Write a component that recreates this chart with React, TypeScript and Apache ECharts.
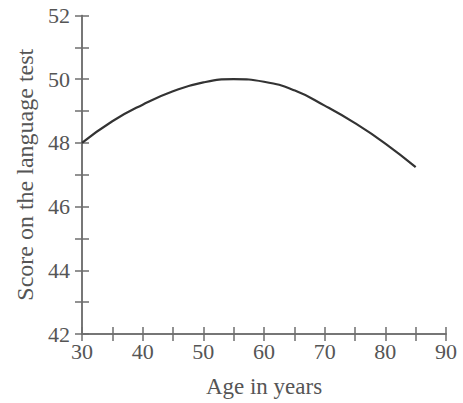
import React, { useEffect, useRef } from "react";
import * as echarts from "echarts";

const ages = [30, 35, 40, 45, 50, 55, 60, 65, 70, 75, 80, 85];
const scores = [48.0, 48.68, 49.2, 49.62, 49.9, 50.0, 49.92, 49.65, 49.17, 48.62, 47.98, 47.24];
const xTitle = "Age in years";
const yTitle = "Score on the language test";

const FONT = "'Liberation Serif', 'DejaVu Serif', serif";
const AXIS = "#6e6e6e";
const TEXT = "#555";

export default function App() {
  const ref = useRef<HTMLDivElement>(null);
  useEffect(() => {
    if (!ref.current) return;
    const chart = echarts.init(ref.current, undefined, { renderer: "svg" });
    const common = {
      axisLine: { show: true, onZero: false, lineStyle: { color: AXIS, width: 1.5 } },
      splitLine: { show: false },
    };
    chart.setOption({
      animation: false,
      backgroundColor: "#fff",
      grid: { left: 82, right: 17, top: 15.5, bottom: 66.5, containLabel: false },
      xAxis: [
        {
          ...common,
          type: "value",
          min: 30,
          max: 90,
          interval: 5,
          position: "bottom",
          name: xTitle,
          nameLocation: "middle",
          nameGap: 41,
          nameTextStyle: { color: TEXT, fontFamily: FONT, fontSize: 23 },
          axisTick: { show: true, length: 7, lineStyle: { color: AXIS, width: 1.5 } },
          axisLabel: {
            color: TEXT,
            fontFamily: FONT,
            fontSize: 22,
            margin: 6,
            formatter: (v: number) => (v % 10 === 0 ? String(v) : ""),
          },
        },
        {
          ...common,
          type: "value",
          min: 30,
          max: 90,
          interval: 5,
          position: "bottom",
          axisTick: { show: true, inside: true, length: 7, lineStyle: { color: AXIS, width: 1.5 } },
          axisLabel: { show: false },
        },
      ],
      yAxis: [
        {
          ...common,
          type: "value",
          min: 42,
          max: 52,
          interval: 1,
          position: "left",
          name: yTitle,
          nameLocation: "middle",
          nameGap: 44,
          nameTextStyle: { color: TEXT, fontFamily: FONT, fontSize: 24 },
          axisTick: { show: true, length: 7, lineStyle: { color: AXIS, width: 1.5 } },
          axisLabel: {
            color: TEXT,
            fontFamily: FONT,
            fontSize: 22,
            margin: 12,
            formatter: (v: number) => (v % 2 === 0 ? String(v) : ""),
          },
        },
        {
          ...common,
          type: "value",
          min: 42,
          max: 52,
          interval: 1,
          position: "left",
          axisTick: { show: true, inside: true, length: 7, lineStyle: { color: AXIS, width: 1.5 } },
          axisLabel: { show: false },
        },
      ],
      series: [
        {
          type: "line",
          data: ages.map((a, i) => [a, scores[i]]),
          smooth: true,
          showSymbol: false,
          lineStyle: { color: "#333", width: 2.2 },
        },
      ],
    });
    return () => chart.dispose();
  }, []);
  return (
    <div
      ref={ref}
      style={{ position: "fixed", left: 0, top: 0, width: 463, height: 403 }}
    />
  );
}
